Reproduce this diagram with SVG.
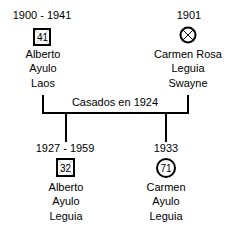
<svg xmlns="http://www.w3.org/2000/svg" width="236" height="231" viewBox="0 0 236 231">
<style>
text{font-family:"Liberation Sans",Arial,sans-serif;font-size:11px;fill:#000;text-anchor:middle}
.sm{font-size:10px}
.sym{fill:#fff;stroke:#000;stroke-width:2}
.diag{stroke:#aaa;stroke-width:0.7}
.ln{stroke:#000;stroke-width:2;fill:none}
</style>
<rect width="236" height="231" fill="#fff"/>
<g id="connectors">
<path class="ln" d="M43 95V113H188V95"/>
<path class="ln" d="M66 113V142M166 113V142"/>
</g>
<text x="115" y="106">Casados en 1924</text>
<g id="alberto-laos">
<text x="42" y="19">1900 - 1941</text>
<rect class="sym" x="34" y="29" width="16" height="16"/>
<path class="diag" d="M35 30L49 44M49 30L35 44"/>
<text class="sm" x="42.5" y="41">41</text>
<text x="43" y="58">Alberto</text>
<text x="43" y="72">Ayulo</text>
<text x="43" y="87">Laos</text>
</g>
<g id="carmen-rosa">
<text x="189" y="19">1901</text>
<circle class="sym" cx="188" cy="35" r="7.5"/>
<path class="ln" style="stroke-width:1" d="M182.7 29.7L193.3 40.3M193.3 29.7L182.7 40.3"/>
<text x="188" y="58">Carmen Rosa</text>
<text x="188" y="72">Leguia</text>
<text x="188" y="87">Swayne</text>
</g>
<g id="alberto-leguia">
<text x="65" y="152">1927 - 1959</text>
<rect class="sym" x="57" y="159" width="17" height="17"/>
<path class="diag" d="M58 160L73 175M73 160L58 175"/>
<text class="sm" x="65.5" y="171.5">32</text>
<text x="66" y="191">Alberto</text>
<text x="66" y="205">Ayulo</text>
<text x="66" y="220">Leguia</text>
</g>
<g id="carmen-leguia">
<text x="166" y="152">1933</text>
<circle class="sym" cx="166" cy="168" r="9"/>
<text class="sm" x="166" y="171.5">71</text>
<text x="166" y="191">Carmen</text>
<text x="166" y="205">Ayulo</text>
<text x="166" y="220">Leguia</text>
</g>
</svg>
